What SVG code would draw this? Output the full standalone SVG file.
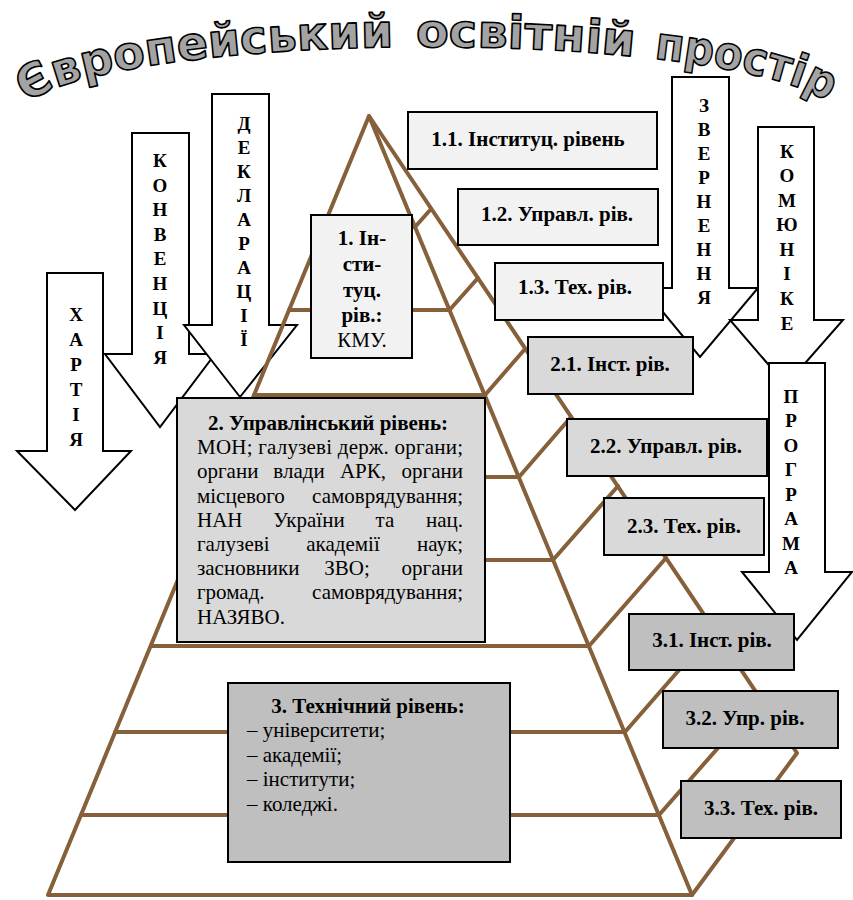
<svg xmlns="http://www.w3.org/2000/svg" xmlns:xlink="http://www.w3.org/1999/xlink" width="853" height="900" viewBox="0 0 853 900">
<style>
.pyr{stroke:#86603a;stroke-width:4;fill:none;stroke-linecap:round;stroke-linejoin:round}
.box{stroke:#000;stroke-width:2}
.l1{fill:#f2f2f2}.l2{fill:#d9d9d9}.l3{fill:#bfbfbf}
.arrow{fill:#fff;stroke:#000;stroke-width:2;stroke-linejoin:miter}
.t{font-family:'Liberation Serif','DejaVu Serif','Noto Serif',serif;font-size:21px;fill:#000}
.b{font-weight:bold}
.c{text-anchor:middle}
.e{text-anchor:end}
.v{font-family:'Liberation Serif','DejaVu Serif','Noto Serif',serif;font-weight:bold;font-size:19px;text-anchor:middle;fill:#000}
.title{font-family:'DejaVu Sans','Liberation Sans',sans-serif;font-weight:bold;font-size:46px;fill:#a3a3a3;stroke:#000;stroke-width:1.6;stroke-linejoin:round}
</style>
<defs>
<path id="arc" d="M 27,104 A 408,70 0 0 1 829,104"/>
</defs>
<rect width="853" height="900" fill="#fff"/>

<g id="title">
<text class="title"><textPath xlink:href="#arc" href="#arc" startOffset="0" textLength="374" lengthAdjust="spacingAndGlyphs">Європейський</textPath></text>
<text class="title"><textPath xlink:href="#arc" href="#arc" startOffset="397" textLength="218" lengthAdjust="spacingAndGlyphs">освітній</textPath></text>
<text class="title"><textPath xlink:href="#arc" href="#arc" startOffset="635" textLength="180" lengthAdjust="spacingAndGlyphs">простір</textPath></text>
</g>

<g id="arrow-konventsiia">
<path class="arrow" d="M132,133 H189 V354 H215 L160,427 L105,354 H132 Z"/>
<text class="v"><tspan x="160" y="167">К</tspan><tspan x="160" y="192">О</tspan><tspan x="160" y="216">Н</tspan><tspan x="160" y="241">В</tspan><tspan x="160" y="265">Е</tspan><tspan x="160" y="290">Н</tspan><tspan x="160" y="315">Ц</tspan><tspan x="160" y="339">І</tspan><tspan x="160" y="364">Я</tspan></text>
</g>
<g id="arrow-khartiia">
<path class="arrow" d="M47,273 H103 V451 H131 L75,510 L17,451 H47 Z"/>
<text class="v"><tspan x="76" y="321">Х</tspan><tspan x="76" y="346">А</tspan><tspan x="76" y="371">Р</tspan><tspan x="76" y="396">Т</tspan><tspan x="76" y="421">І</tspan><tspan x="76" y="446">Я</tspan></text>
</g>
<g id="arrow-deklaratsii">
<path class="arrow" d="M212,94 H269 V325 H297 L240,397 L184,325 H212 Z"/>
<text class="v"><tspan x="244" y="130">Д</tspan><tspan x="244" y="154">Е</tspan><tspan x="244" y="178">К</tspan><tspan x="244" y="202">Л</tspan><tspan x="244" y="226">А</tspan><tspan x="244" y="250">Р</tspan><tspan x="244" y="274">А</tspan><tspan x="244" y="298">Ц</tspan><tspan x="244" y="322">І</tspan><tspan x="244" y="346">Ї</tspan></text>
</g>

<g id="arrow-zvernennia">
<path class="arrow" d="M672,77 H729 V288 H758 L700,357 L643,288 H672 Z"/>
<text class="v"><tspan x="704" y="112">З</tspan><tspan x="704" y="136">В</tspan><tspan x="704" y="160">Е</tspan><tspan x="704" y="184">Р</tspan><tspan x="704" y="208">Н</tspan><tspan x="704" y="232">Е</tspan><tspan x="704" y="256">Н</tspan><tspan x="704" y="280">Н</tspan><tspan x="704" y="304">Я</tspan></text>
</g>
<g id="arrow-komiunike">
<path class="arrow" d="M758,127 H814 V320 H843 L786,385 L730,320 H758 Z"/>
<text class="v"><tspan x="787" y="158">К</tspan><tspan x="787" y="182">О</tspan><tspan x="787" y="207">М</tspan><tspan x="787" y="231">Ю</tspan><tspan x="787" y="256">Н</tspan><tspan x="787" y="280">І</tspan><tspan x="787" y="305">К</tspan><tspan x="787" y="330">Е</tspan></text>
</g>
<g id="arrow-prohrama">
<path class="arrow" d="M769,363 H825 V572 H852 L797,640 L742,572 H769 Z"/>
<text class="v"><tspan x="791" y="403">П</tspan><tspan x="791" y="427">Р</tspan><tspan x="791" y="452">О</tspan><tspan x="791" y="476">Г</tspan><tspan x="791" y="501">Р</tspan><tspan x="791" y="525">А</tspan><tspan x="791" y="550">М</tspan><tspan x="791" y="574">А</tspan></text>
</g>

<g id="connectors">
<g id="pyramid" class="pyr">
<path d="M369,116 L48,895 L692,895 Z"/>
<path d="M369,116 L797,753 L692,895"/>
<path d="M323,227 H415 L431,209"/>
<path d="M289,310 H449.5 L478,278"/>
<path d="M254,395 H485 L525,349"/>
<path d="M220,477 H519 L571,417"/>
<path d="M186,560 H553 L618,486"/>
<path d="M151,646 H589 L666,558"/>
<path d="M115,732 H625 L714,630"/>
<path d="M81,815 H659 L761,699"/>
</g>
</g>

<g id="n1">
<rect class="box l1" x="311" y="215" width="101" height="143"/>
<text class="t b c"><tspan x="362" y="245">1. Ін-</tspan><tspan x="362" y="271">сти-</tspan><tspan x="362" y="297">туц.</tspan><tspan x="362" y="322">рів.:</tspan><tspan x="362" y="347" font-weight="normal">КМУ.</tspan></text>
</g>
<g id="n11"><rect class="box l1" x="408" y="112" width="249" height="57"/><text class="t b c" x="528" y="146">1.1. Інституц. рівень</text></g>
<g id="n12"><rect class="box l1" x="458" y="189" width="200" height="56"/><text class="t b c" x="557" y="221">1.2. Управл. рів.</text></g>
<g id="n13"><rect class="box l1" x="495" y="263" width="168" height="57"/><text class="t b c" x="575" y="294">1.3. Тех. рів.</text></g>
<g id="n21"><rect class="box l2" x="528" y="337" width="165" height="57"/><text class="t b c" x="610" y="371">2.1. Інст. рів.</text></g>
<g id="n22"><rect class="box l2" x="567" y="419" width="200" height="57"/><text class="t b c" x="666" y="453">2.2. Управл. рів.</text></g>
<g id="n23"><rect class="box l2" x="604" y="498" width="160" height="57"/><text class="t b c" x="684" y="533">2.3. Тех. рів.</text></g>
<g id="n31"><rect class="box l3" x="629" y="614" width="165" height="56"/><text class="t b c" x="712" y="647">3.1. Інст. рів.</text></g>
<g id="n32"><rect class="box l3" x="663" y="691" width="175" height="57"/><text class="t b c" x="745" y="725">3.2. Упр. рів.</text></g>
<g id="n33"><rect class="box l3" x="681" y="781" width="160" height="57"/><text class="t b c" x="761" y="815">3.3. Тех. рів.</text></g>

<g id="n2">
<rect class="box l2" x="177" y="398" width="308" height="244"/>
<text class="t b c" x="328" y="430">2. Управлінський рівень:</text>
<text class="t" x="197" y="454" textLength="266" lengthAdjust="spacing">МОН; галузеві держ. органи;</text>
<text class="t" x="197" y="478">органи</text><text class="t c" x="299" y="478">влади</text><text class="t c" x="363" y="478">АРК,</text><text class="t e" x="463" y="478">органи</text>
<text class="t" x="197" y="503">місцевого</text><text class="t e" x="463" y="503">самоврядування;</text>
<text class="t" x="197" y="527">НАН</text><text class="t c" x="309" y="527">України</text><text class="t c" x="385" y="527">та</text><text class="t e" x="463" y="527">нац.</text>
<text class="t" x="197" y="551">галузеві</text><text class="t c" x="343" y="551">академії</text><text class="t e" x="463" y="551">наук;</text>
<text class="t" x="197" y="575">засновники</text><text class="t c" x="347" y="575">ЗВО;</text><text class="t e" x="463" y="575">органи</text>
<text class="t" x="197" y="599">громад.</text><text class="t e" x="463" y="599">самоврядування;</text>
<text class="t" x="197" y="624">НАЗЯВО.</text>
</g>

<g id="n3">
<rect class="box l3" x="228" y="683" width="282" height="179"/>
<text class="t b c" x="368" y="713">3. Технічний рівень:</text>
<text class="t" x="247" y="737">– університети;</text>
<text class="t" x="247" y="762">– академії;</text>
<text class="t" x="247" y="786">– інститути;</text>
<text class="t" x="247" y="811">– коледжі.</text>
</g>
</svg>
